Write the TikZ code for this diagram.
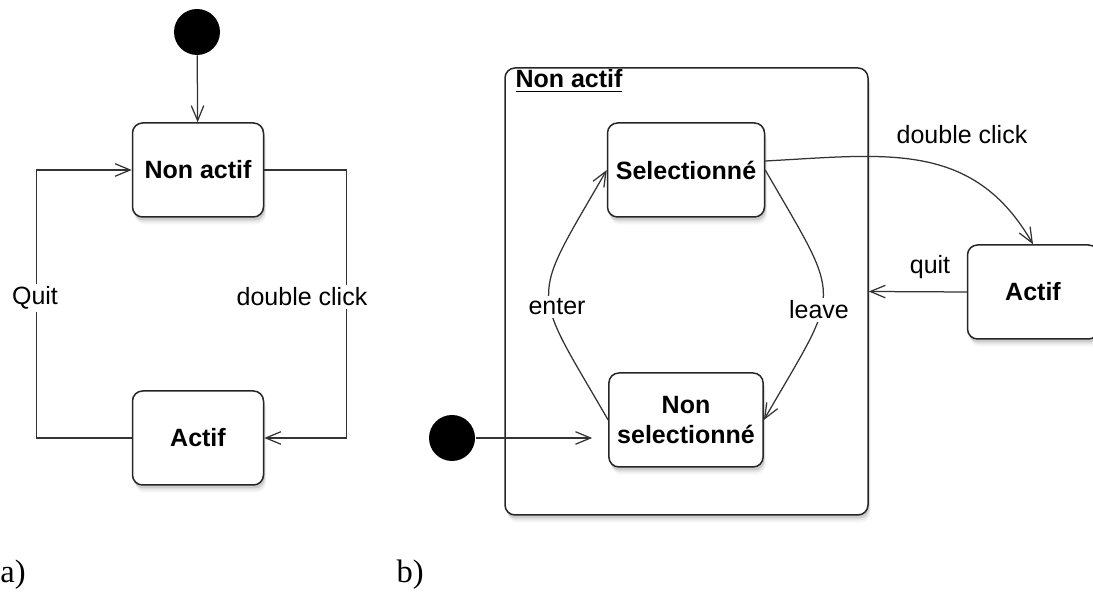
\documentclass[tikz,border=0pt]{standalone}
\usepackage{fontspec}
\setmainfont{Liberation Sans}
\newfontfamily\captionfont{Liberation Serif}
\usetikzlibrary{positioning, arrows.meta, shadows, calc}

\begin{document}
\begin{tikzpicture}[
    x=0.4pt, y=0.4pt,
    % Style definitions
    statebox/.style={
        rectangle, draw=black!85, fill=white, line width=0.6pt,
        rounded corners=4pt,
        minimum width=52.4pt, minimum height=37.6pt,
        font=\fontsize{10}{12}\selectfont\bfseries, align=center,
        drop shadow={shadow xshift=1pt, shadow yshift=-3pt, opacity=0.08},
        drop shadow={shadow xshift=0.8pt, shadow yshift=-2.2pt, opacity=0.12},
        drop shadow={shadow xshift=0.5pt, shadow yshift=-1.4pt, opacity=0.25}
    },
    superbox/.style={
        statebox, minimum width=145.2pt, minimum height=178.8pt
    },
    startdot/.style={
        circle, fill=black, minimum size=18.4pt, inner sep=0pt
    },
    trans/.style={
        -{Straight Barb[length=6pt, width=5pt]}, black!80, line width=0.5pt
    },
    translabel/.style={
        font=\fontsize{10}{12}\selectfont, inner sep=1pt
    },
    panellabel/.style={
        font=\captionfont\fontsize{13}{15}\selectfont, anchor=base west, inner sep=0pt
    },
]

\useasboundingbox (0,0) rectangle (1093,592);

% Column positions
\def\colA{198}
\def\colB{686}
\def\colC{1033}

% === a) flat machine ===
\node[startdot] (initA) at (197, 560) {};
\node[statebox] (nonactifA) at (\colA, 422) {Non actif};
\node[statebox] (actifA) at (\colA, 154) {Actif};

\draw[trans] (initA) -- (nonactifA);
\draw[trans] (nonactifA.east) -- ++(82.5,0) |- (actifA.east);
\draw[trans] (actifA.west) -- ++(-95.5,0) |- (nonactifA.west);

\node[translabel, fill=white] (quitA) at (35, 294) {Quit};
\node[translabel, fill=white] (dblA) at (302, 295) {double click};

% === b) composite state ===
\node[superbox] (nonactifB) at (686.5, 300.5) {};
\node[font=\fontsize{10}{12}\selectfont\bfseries, anchor=base west, inner sep=0pt]
    (titleB) at (515, 504) {\underline{Non actif}};

\node[statebox] (selB) at (\colB, 422) {Selectionné};
\node[statebox] (nonselB) at (\colB, 172) {Non\\selectionné};
\node[statebox] (actifB) at (\colC, 300) {Actif};
\node[startdot] (initB) at (452, 154) {};

\draw[trans, shorten >=6.4pt] (initB) -- (initB -| nonselB.west);
\draw[trans] (nonselB.west) to[out=120, in=240, looseness=1.6] (selB.west);
\draw[trans] (selB.east) to[out=-60, in=60, looseness=1.6] (nonselB.east);
\draw[trans] ([yshift=3.6pt]selB.east) to[out=3, in=120, looseness=1.1] (actifB.north);
\draw[trans] (actifB.west) -- (nonactifB.east);

\node[translabel, fill=white] (enterB) at (557, 285) {enter};
\node[translabel, fill=white] (leaveB) at (819, 282) {leave};
\node[translabel] (dblB) at (962, 457) {double click};
\node[translabel] (quitB) at (930, 325) {quit};

% === Panel labels ===
\node[panellabel] (capA) at (0, 9) {a)};
\node[panellabel] (capB) at (396, 9) {b)};

\end{tikzpicture}
\end{document}
